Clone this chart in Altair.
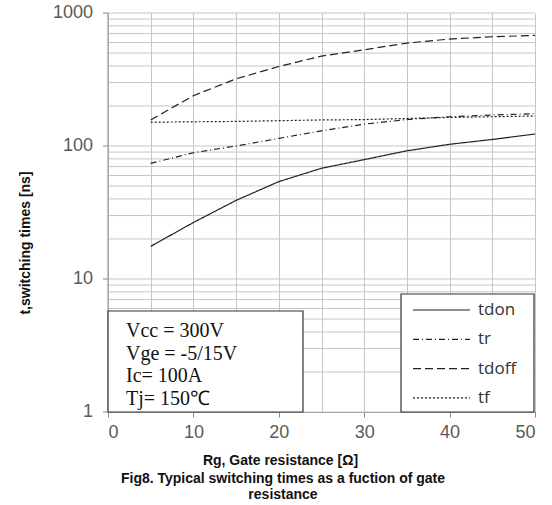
import altair as alt
import pandas as pd

# ---- data ----
rg = [5, 10, 15, 20, 25, 30, 35, 40, 45, 50]
tdon = [17.6, 26.6, 39, 54, 68, 79, 92, 103, 112, 123]
tr = [74, 89, 100, 114, 130, 146, 158, 166, 171, 175]
tdoff = [157, 239, 320, 396, 474, 529, 594, 637, 663, 678]
tf = [151, 152, 153, 155, 157, 158, 161, 164, 166, 168]

series_names = ["tdon", "tr", "tdoff", "tf"]
series_vals = [tdon, tr, tdoff, tf]
dashes = [[1, 0], [6, 3, 1, 3], [8, 4], [2, 2]]

cond_lines = ["Vcc = 300V", "Vge = -5/15V", "Ic= 100A", "Tj= 150\u2103"]
caption_lines = ["Fig8. Typical switching times as a fuction of gate", "resistance"]
y_title = "t,switching times [ns]"

# log grid values (1..9 per decade) and major tick labels
y_grid = [m * 10 ** e for e in range(0, 3) for m in range(1, 10)] + [1000]
y_major = [1, 10, 100, 1000]

rows = []
for name, vals in zip(series_names, series_vals):
    for x, v in zip(rg, vals):
        rows.append({"rg": x, "t": v, "series": name})
df = pd.DataFrame(rows)

grid_df = pd.DataFrame({"t": y_grid})
major_df = pd.DataFrame({"t": y_major, "lab": [str(v) for v in y_major]})

W, H = 427, 399
LINE = "#222222"
TICKGRAY = "#8a8a8a"
LABELGRAY = "#5a5a5a"
GRID = "#c6c6c6"

yscale = alt.Scale(type="log", domain=[1, 1000], nice=False)
xscale = alt.Scale(domain=[0, 50], nice=False, zero=False)

x_enc = alt.X(
    "rg:Q",
    scale=xscale,
    axis=alt.Axis(
        values=list(range(0, 51, 5)),
        labelExpr="datum.value % 10 === 0 ? datum.label : ''",
        tickOpacity={"condition": {"test": "datum.value % 10 === 0", "value": 1}, "value": 0},
        grid=True,
        title="Rg, Gate resistance [\u03a9]",
        titleX=172,
        titleY=41,
        titleFontSize=14,
        titleFontWeight="bold",
        titleFont="Liberation Sans",
        titleColor="#111111",
        labelFontSize=18,
        labelFont="Liberation Sans",
        labelColor=LABELGRAY,
        labelPadding=6,
        tickSize=5,
    ),
)
y_enc = alt.Y("t:Q", scale=yscale, axis=None)

layers = []
# horizontal log gridlines, spanning the plot width
layers.append(
    alt.Chart(grid_df).mark_rule(color=GRID, strokeWidth=1, opacity=1).encode(
        x=alt.value(0), x2=alt.value(W), y=y_enc
    )
)
for name, d in zip(series_names, dashes):
    layers.append(
        alt.Chart(df[df.series == name])
        .mark_line(color=LINE, strokeWidth=1.2, strokeDash=d)
        .encode(x=x_enc, y=y_enc)
    )

# y axis drawn by hand: domain line, major ticks, labels, title
layers.append(
    alt.Chart(major_df.head(1)).mark_rule(color=TICKGRAY, strokeWidth=1).encode(
        x=alt.value(0), y=alt.value(0), y2=alt.value(H)
    )
)
layers.append(
    alt.Chart(major_df).mark_rule(color=TICKGRAY, strokeWidth=1).encode(
        x=alt.value(-5), x2=alt.value(0), y=y_enc
    )
)
layers.append(
    alt.Chart(major_df).mark_text(
        font="Liberation Sans", fontSize=18, color=LABELGRAY, align="right", baseline="middle",
    ).encode(x=alt.value(-15), y=y_enc, text="lab:N")
)
layers.append(
    alt.Chart(major_df.head(1)).mark_text(
        text=y_title, font="Liberation Sans", fontSize=14, fontWeight="bold",
        color="#111111", angle=270, align="center", baseline="middle",
    ).encode(x=alt.value(-82), y=alt.value(230))
)

# condition box
layers.append(
    alt.Chart(df.head(1)).mark_rect(fill="white", stroke="#333333", strokeWidth=1.2).encode(
        x=alt.value(0), x2=alt.value(195), y=alt.value(298), y2=alt.value(399)
    )
)
for i, txt in enumerate(cond_lines):
    layers.append(
        alt.Chart(df.head(1)).mark_text(
            text=txt, font="Liberation Serif", fontSize=20, color="#111111",
            align="left", baseline="middle",
        ).encode(x=alt.value(18), y=alt.value(318 + i * 22.5))
    )

# legend box
layers.append(
    alt.Chart(df.head(1)).mark_rect(fill="white", stroke="#333333", strokeWidth=1.2).encode(
        x=alt.value(293), x2=alt.value(426), y=alt.value(281), y2=alt.value(399)
    )
)
for i, (name, d) in enumerate(zip(series_names, dashes)):
    yy = 297 + i * 29.3
    layers.append(
        alt.Chart(df.head(1)).mark_rule(color=LINE, strokeWidth=1.2, strokeDash=d).encode(
            x=alt.value(305), x2=alt.value(362), y=alt.value(yy)
        )
    )
    layers.append(
        alt.Chart(df.head(1)).mark_text(
            text=name, font="Open Sans", fontSize=17, color="#333333",
            align="left", baseline="middle",
        ).encode(x=alt.value(370), y=alt.value(yy))
    )

# caption
for i, txt in enumerate(caption_lines):
    layers.append(
        alt.Chart(df.head(1)).mark_text(
            text=txt, font="Liberation Sans", fontSize=14, fontWeight="bold",
            color="#111111", align="center", baseline="middle",
        ).encode(x=alt.value(175), y=alt.value(466 + i * 16))
    )

chart = (
    alt.layer(*layers)
    .properties(
        width=W, height=H,
        autosize=alt.AutoSizeParams(type="none"),
        padding={"left": 108, "top": 13, "right": 17, "bottom": 93},
        background="white",
    )
    .configure_view(stroke=None)
    .configure_axis(
        gridColor=GRID, gridWidth=1, domainColor=TICKGRAY, tickColor=TICKGRAY,
    )
)

chart.save("out.html", embed_options={"renderer": "svg", "actions": False})
